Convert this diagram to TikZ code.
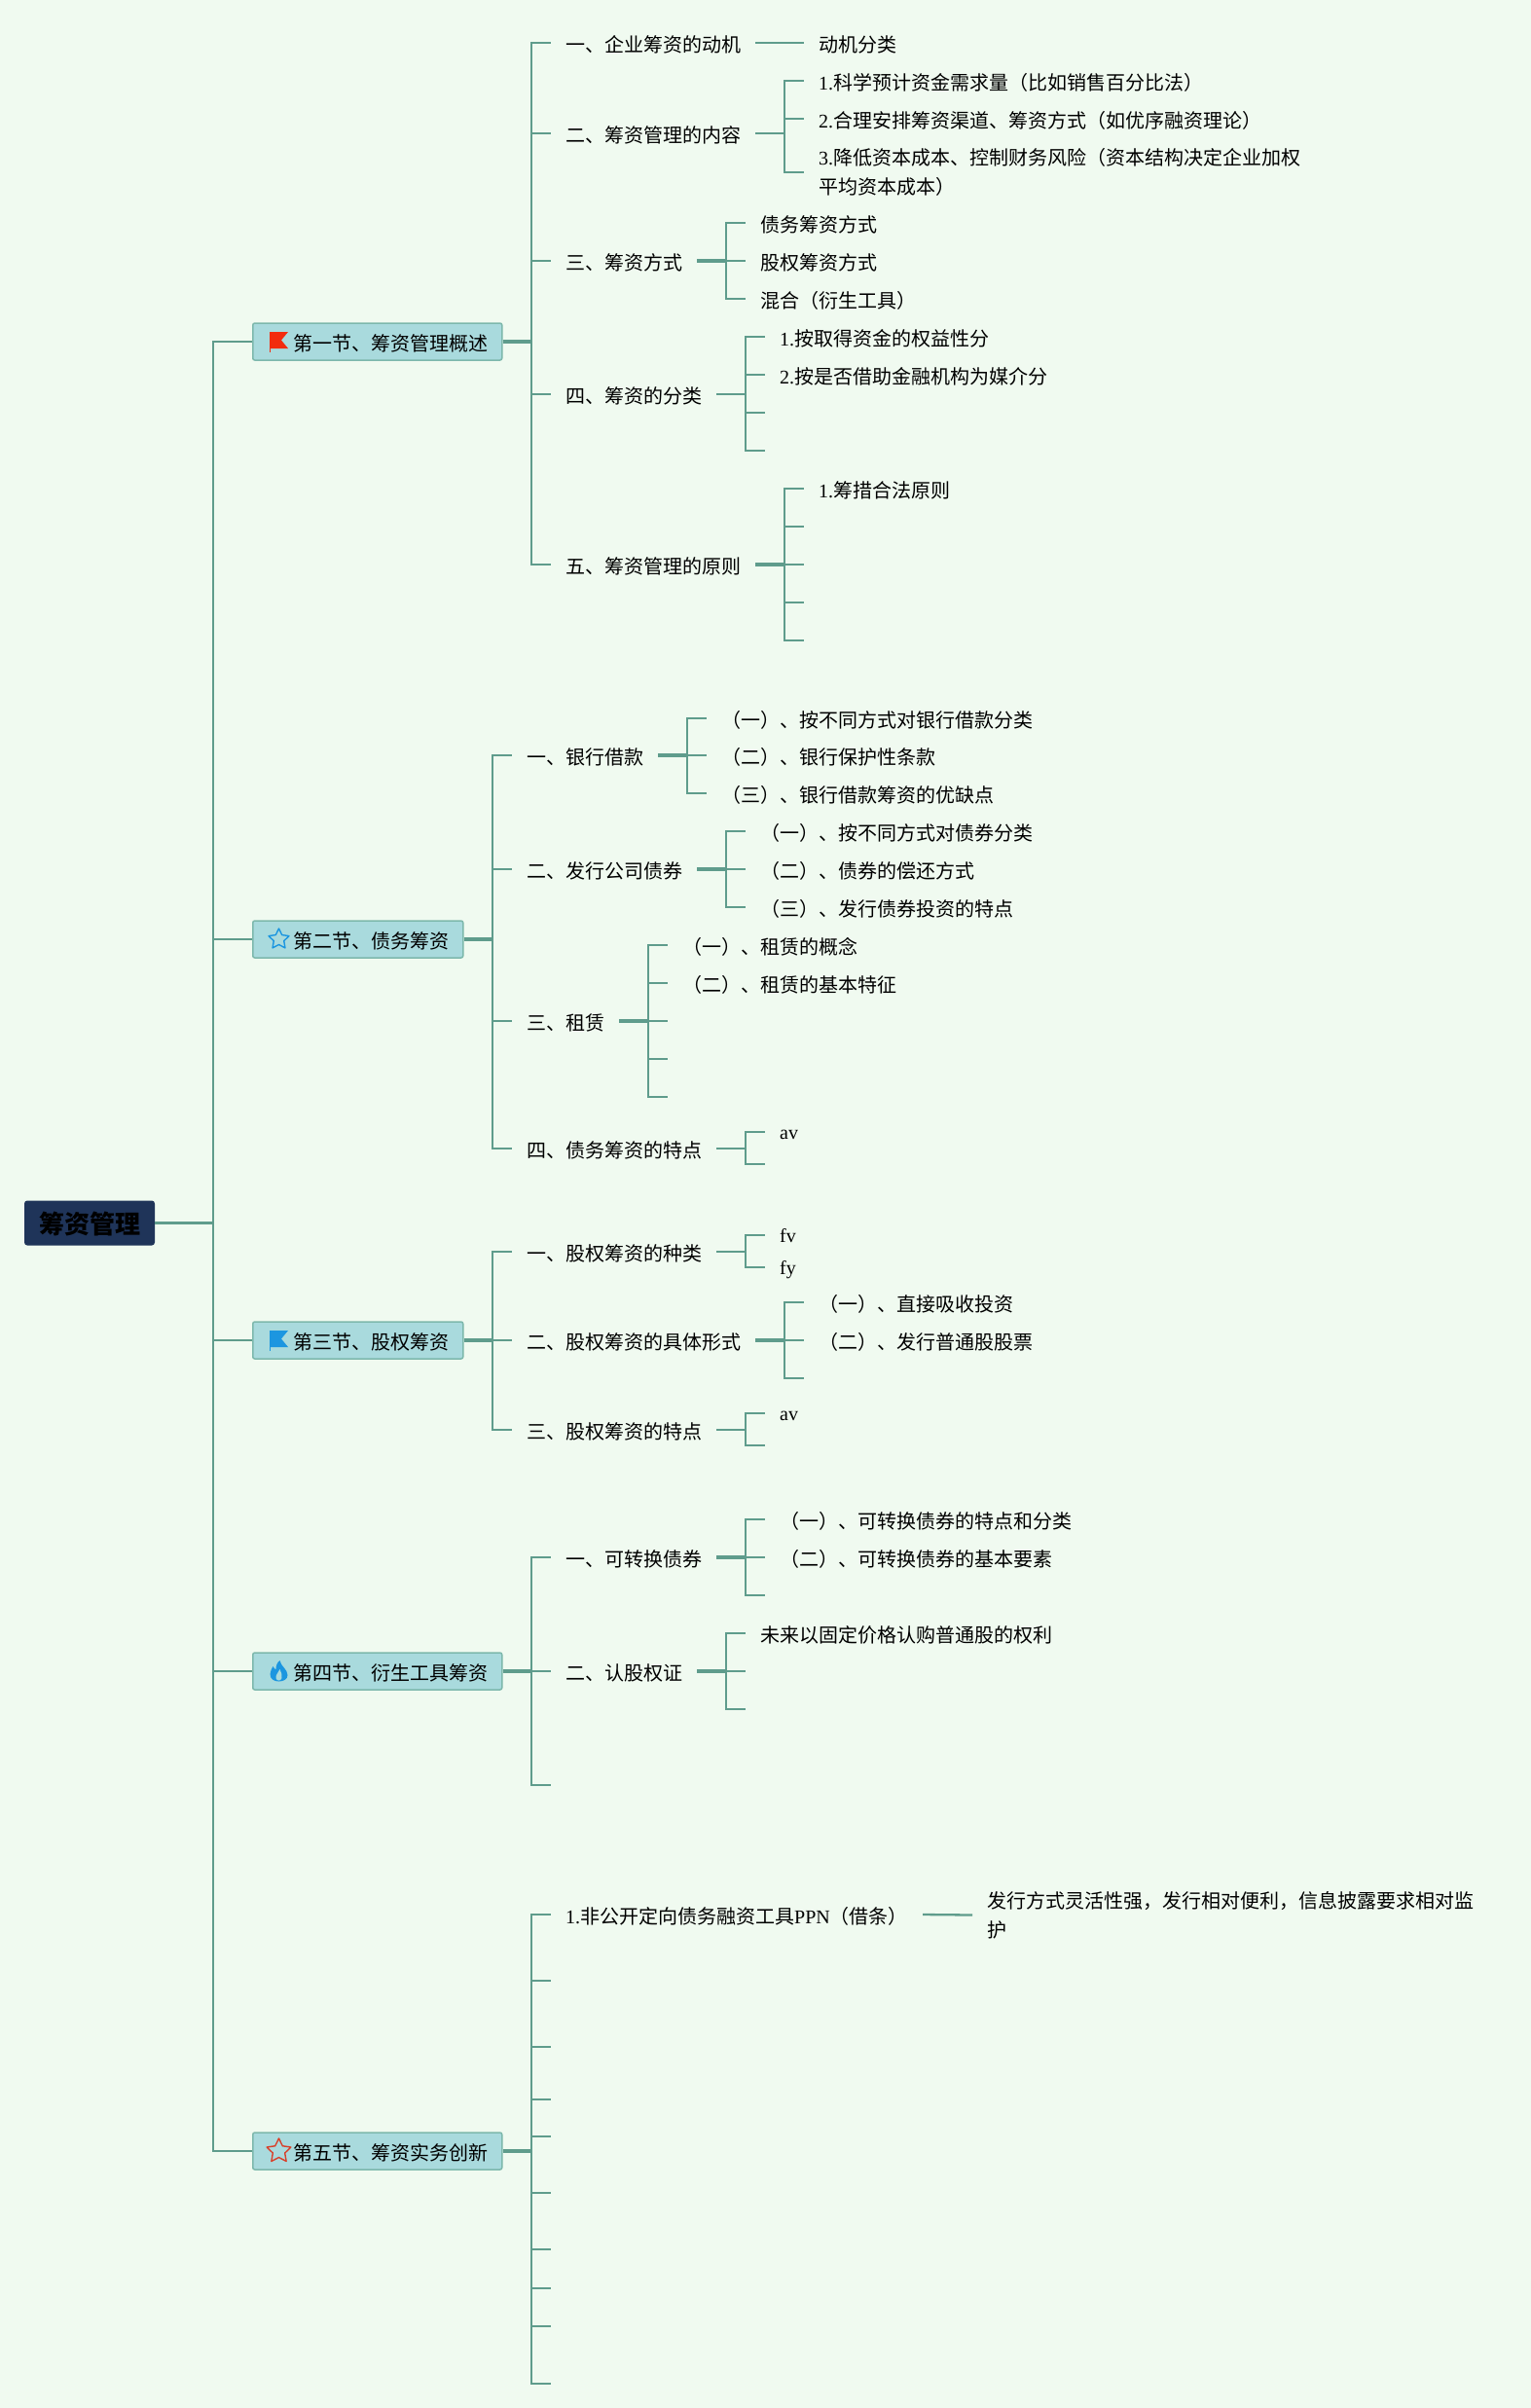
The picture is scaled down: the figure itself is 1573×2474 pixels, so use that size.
\documentclass[tikz,border=0pt]{standalone}
\usepackage{fontspec}
\setmainfont{Noto Sans CJK SC}
\newfontfamily\latfont{Liberation Serif}
\newcommand{\lat}[1]{{\latfont #1}}

\definecolor{pagebg}{HTML}{F0FAF0}
\definecolor{linkgreen}{HTML}{5F9C8C}
\definecolor{boxfill}{HTML}{A9DADD}
\definecolor{boxedge}{HTML}{7DB8AC}
\definecolor{rootfill}{HTML}{1F3459}
\definecolor{iconred}{HTML}{F22B0E}
\definecolor{starred}{HTML}{D8402A}
\definecolor{iconblue}{HTML}{1C96E0}

\tikzset{
	link/.style={draw=linkgreen,line width=2.3pt},
	stem/.style={draw=linkgreen,line width=3.3pt},
	leaf/.style={anchor=west,inner xsep=15pt,inner ysep=0pt,text height=20pt,text depth=1.4pt,font=\fontsize{20pt}{30pt}\selectfont},
	latleaf/.style={leaf,text height=16pt},
	wrapleaf/.style={anchor=west,inner xsep=15pt,inner ysep=0pt,align=left,font=\fontsize{20pt}{30pt}\selectfont},
	secbox/.style={anchor=west,draw=boxedge,fill=boxfill,line width=1.5pt,rounded corners=2pt,inner xsep=14.5pt,minimum height=38pt,text height=20pt,text depth=1.4pt,font=\fontsize{20pt}{30pt}\selectfont,execute at begin node={\hspace*{27pt}}},
	rootbox/.style={fill=rootfill,rounded corners=3pt,minimum width=134pt,minimum height=46pt,text height=23pt,text depth=1pt,font=\fontsize{26pt}{30pt}\selectfont\bfseries},
	flagicon/.pic={
		\fill[#1] (0,-10) -- (19,-10) -- (12,-1.5) -- (19,7) -- (0,7) -- cycle;
		\draw[#1,line width=1pt] (0,-10) -- (0,11);
	},
	flameicon/.pic={
		\fill[#1] (1,-11) .. controls (2,-5) and (9,-2) .. (9,4) .. controls (9,8) and (5,10.5) .. (0,10.5)
			.. controls (-5,10.5) and (-9,8) .. (-9,3) .. controls (-9,0) and (-7,-3) .. (-6,-5)
			.. controls (-5,-3) and (-4,-2) .. (-3,-2) .. controls (-3,-5) and (-2,-9) .. (1,-11) -- cycle;
		\fill[boxfill] (0,9.5) .. controls (-3,9.5) and (-4,6) .. (-2,3) .. controls (-1,1) and (0,0) .. (1,-2)
			.. controls (2,1) and (4,4) .. (3,7) .. controls (2.5,9) and (1,9.5) .. (0,9.5) -- cycle;
	},
	pics/staricon/.style 2 args={code={
		\draw[#1,line width=1.4pt,line join=round] (270:#2)
			-- (306:{0.5*#2}) -- (342:#2) -- (18:{0.5*#2}) -- (54:#2) -- (90:{0.5*#2})
			-- (126:#2) -- (162:{0.5*#2}) -- (198:#2) -- (234:{0.5*#2}) -- cycle;
	}}
}

\begin{document}
\begin{tikzpicture}[x=1pt,y=-1pt]

	\useasboundingbox (0,0) rectangle (1573,2474);
	\fill[pagebg] (0,0) rectangle (1573,2474);

	% root and sections
	\node[rootbox] (root) at (92,1256.5) {筹资管理};
	\node[secbox] (sec1) at (259,351) {第一节、筹资管理概述};
	\node[secbox] (sec2) at (259,965) {第二节、债务筹资};
	\node[secbox] (sec3) at (259,1377) {第三节、股权筹资};
	\node[secbox] (sec4) at (259,1717) {第四节、衍生工具筹资};
	\node[secbox] (sec5) at (259,2210) {第五节、筹资实务创新};

	\pic at ([xshift=18pt]sec1.west) {flagicon=iconred};
	\pic at ([xshift=27.5pt]sec2.west) {staricon={iconblue}{11}};
	\pic at ([xshift=18pt]sec3.west) {flagicon=iconblue};
	\pic at ([xshift=27.5pt]sec4.west) {flameicon=iconblue};
	\pic at ([xshift=27.5pt]sec5.west) {staricon={starred}{13}};

	\coordinate (j0) at (219,1256.5);
	\draw[stem] (root.east) -- (j0);
	\foreach \s in {sec1,sec2,sec3,sec4,sec5}
		\draw[link] (j0) |- (\s.west);

	% section one
	\node[leaf] (a1) at (566,44) {一、企业筹资的动机};
	\node[leaf] (a2) at (566,137) {二、筹资管理的内容};
	\node[leaf] (a3) at (566,268) {三、筹资方式};
	\node[leaf] (a4) at (566,405) {四、筹资的分类};
	\node[leaf] (a5) at (566,580) {五、筹资管理的原则};
	\node[leaf] (a1a) at (826,44) {动机分类};
	\node[leaf] (a2a) at (826,83) {\lat{1.}科学预计资金需求量（比如销售百分比法）};
	\node[leaf] (a2b) at (826,122) {\lat{2.}合理安排筹资渠道、筹资方式（如优序融资理论）};
	\node[wrapleaf] (a2c) at (826,176.7) {\lat{3.}降低资本成本、控制财务风险（资本结构决定企业加权\\平均资本成本）};
	\node[leaf] (a3a) at (766,229) {债务筹资方式};
	\node[leaf] (a3b) at (766,268) {股权筹资方式};
	\node[leaf] (a3c) at (766,307) {混合（衍生工具）};
	\node[leaf] (a4a) at (786,346) {\lat{1.}按取得资金的权益性分};
	\node[leaf] (a4b) at (786,385) {\lat{2.}按是否借助金融机构为媒介分};
	\coordinate (a4c) at (786,424);
	\coordinate (a4d) at (786,463);
	\node[leaf] (a5a) at (826,502) {\lat{1.}筹措合法原则};
	\foreach \n/\y in {a5b/541,a5c/580,a5d/619,a5e/658}
		\coordinate (\n) at (826,\y);

	\coordinate (ja) at (546,351);
	\draw[stem] (sec1.east) -- (ja);
	\foreach \n in {a1,a2,a3,a4,a5}
		\draw[link] (ja) |- (\n.west);
	\draw[link] (a1.east) -- (a1a.west);
	\coordinate (ja2) at (806,137);
	\draw[link] (a2.east) -- (ja2);
	\foreach \n in {a2a,a2b,a2c}
		\draw[link] (ja2) |- (\n.west);
	\coordinate (ja3) at (746,268);
	\draw[stem] (a3.east) -- (ja3);
	\foreach \n in {a3a,a3b,a3c}
		\draw[link] (ja3) |- (\n.west);
	\coordinate (ja4) at (766,405);
	\draw[link] (a4.east) -- (ja4);
	\foreach \n in {a4a.west,a4b.west,a4c,a4d}
		\draw[link] (ja4) |- (\n);
	\coordinate (ja5) at (806,580);
	\draw[stem] (a5.east) -- (ja5);
	\foreach \n in {a5a.west,a5b,a5c,a5d,a5e}
		\draw[link] (ja5) |- (\n);

	% section two
	\node[leaf] (b1) at (526,776) {一、银行借款};
	\node[leaf] (b2) at (526,893) {二、发行公司债券};
	\node[leaf] (b3) at (526,1049) {三、租赁};
	\node[leaf] (b4) at (526,1180) {四、债务筹资的特点};
	\node[leaf] (b1a) at (726,738) {（一）、按不同方式对银行借款分类};
	\node[leaf] (b1b) at (726,776) {（二）、银行保护性条款};
	\node[leaf] (b1c) at (726,815) {（三）、银行借款筹资的优缺点};
	\node[leaf] (b2a) at (766,854) {（一）、按不同方式对债券分类};
	\node[leaf] (b2b) at (766,893) {（二）、债券的偿还方式};
	\node[leaf] (b2c) at (766,932) {（三）、发行债券投资的特点};
	\node[leaf] (b3a) at (686,971) {（一）、租赁的概念};
	\node[leaf] (b3b) at (686,1010) {（二）、租赁的基本特征};
	\foreach \n/\y in {b3c/1049,b3d/1088,b3e/1127}
		\coordinate (\n) at (686,\y);
	\node[latleaf] (b4a) at (786,1163) {\lat{av}};
	\coordinate (b4b) at (786,1196);

	\coordinate (jb) at (506,965);
	\draw[stem] (sec2.east) -- (jb);
	\foreach \n in {b1,b2,b3,b4}
		\draw[link] (jb) |- (\n.west);
	\coordinate (jb1) at (706,776);
	\draw[stem] (b1.east) -- (jb1);
	\foreach \n in {b1a,b1b,b1c}
		\draw[link] (jb1) |- (\n.west);
	\coordinate (jb2) at (746,893);
	\draw[stem] (b2.east) -- (jb2);
	\foreach \n in {b2a,b2b,b2c}
		\draw[link] (jb2) |- (\n.west);
	\coordinate (jb3) at (666,1049);
	\draw[stem] (b3.east) -- (jb3);
	\foreach \n in {b3a.west,b3b.west,b3c,b3d,b3e}
		\draw[link] (jb3) |- (\n);
	\coordinate (jb4) at (766,1180);
	\draw[link] (b4.east) -- (jb4);
	\foreach \n in {b4a.west,b4b}
		\draw[link] (jb4) |- (\n);

	% section three
	\node[leaf] (c1) at (526,1286) {一、股权筹资的种类};
	\node[leaf] (c2) at (526,1377) {二、股权筹资的具体形式};
	\node[leaf] (c3) at (526,1469) {三、股权筹资的特点};
	\node[latleaf] (c1a) at (786,1269) {\lat{fv}};
	\node[latleaf] (c1b) at (786,1302) {\lat{fy}};
	\node[leaf] (c2a) at (826,1338) {（一）、直接吸收投资};
	\node[leaf] (c2b) at (826,1377) {（二）、发行普通股股票};
	\coordinate (c2c) at (826,1416);
	\node[latleaf] (c3a) at (786,1452) {\lat{av}};
	\coordinate (c3b) at (786,1485);

	\coordinate (jc) at (506,1377);
	\draw[stem] (sec3.east) -- (jc);
	\foreach \n in {c1,c2,c3}
		\draw[link] (jc) |- (\n.west);
	\coordinate (jc1) at (766,1286);
	\draw[link] (c1.east) -- (jc1);
	\foreach \n in {c1a,c1b}
		\draw[link] (jc1) |- (\n.west);
	\coordinate (jc2) at (806,1377);
	\draw[stem] (c2.east) -- (jc2);
	\foreach \n in {c2a.west,c2b.west,c2c}
		\draw[link] (jc2) |- (\n);
	\coordinate (jc3) at (766,1469);
	\draw[link] (c3.east) -- (jc3);
	\foreach \n in {c3a.west,c3b}
		\draw[link] (jc3) |- (\n);

	% section four
	\node[leaf] (d1) at (566,1600) {一、可转换债券};
	\node[leaf] (d2) at (566,1717) {二、认股权证};
	\coordinate (d3) at (566,1834);
	\node[leaf] (d1a) at (786,1561) {（一）、可转换债券的特点和分类};
	\node[leaf] (d1b) at (786,1600) {（二）、可转换债券的基本要素};
	\coordinate (d1c) at (786,1639);
	\node[leaf] (d2a) at (766,1678) {未来以固定价格认购普通股的权利};
	\coordinate (d2b) at (766,1717);
	\coordinate (d2c) at (766,1756);

	\coordinate (jd) at (546,1717);
	\draw[stem] (sec4.east) -- (jd);
	\foreach \n in {d1.west,d2.west,d3}
		\draw[link] (jd) |- (\n);
	\coordinate (jd1) at (766,1600);
	\draw[stem] (d1.east) -- (jd1);
	\foreach \n in {d1a.west,d1b.west,d1c}
		\draw[link] (jd1) |- (\n);
	\coordinate (jd2) at (746,1717);
	\draw[stem] (d2.east) -- (jd2);
	\foreach \n in {d2a.west,d2b,d2c}
		\draw[link] (jd2) |- (\n);

	% section five
	\node[leaf] (e1) at (566,1967) {\lat{1.}非公开定向债务融资工具\lat{PPN}（借条）};
	\node[wrapleaf] (e1a) at (999,1967.5) {发行方式灵活性强，发行相对便利，信息披露要求相对监\\护};
	\foreach \n/\y in {e2/2035,e3/2103,e4/2157,e5/2195,e6/2253,e7/2311,e8/2351,e9/2390,e10/2449}
		\coordinate (\n) at (566,\y);

	\coordinate (je) at (546,2210);
	\draw[stem] (sec5.east) -- (je);
	\foreach \n in {e1.west,e2,e3,e4,e5,e6,e7,e8,e9,e10}
		\draw[link] (je) |- (\n);
	\draw[link] (e1.east) -- (e1a.west);

\end{tikzpicture}
\end{document}
